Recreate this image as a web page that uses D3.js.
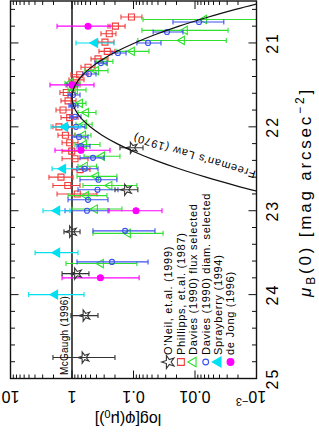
<!DOCTYPE html>
<html>
<head>
<meta charset="utf-8">
<script src="https://cdn.jsdelivr.net/npm/d3@7"></script>
<style>
body { margin: 0; background: #fff; }
svg { display: block; font-family: "Liberation Sans", Arial, sans-serif; }
text { fill: black; }
</style>
</head>
<body>
<div id="container"></div>
<script type="text/javascript">
// rows are [mu, phi, phiHigh, phiLow]
var oneil = [
    [22.25, 0.105, 0.166, 0.070],
    [22.75, 0.130, 0.200, 0.085],
    [23.25, 1.02, 1.35, 0.74],
    [23.75, 0.845, 1.45, 0.53],
    [24.25, 0.615, 1.04, 0.378],
    [24.75, 0.638, 2.04, 0.200]
];
var phillipps = [
    [20.69, 0.108, 0.160, 0.073],
    [20.80, 0.197, 0.260, 0.137],
    [20.89, 0.248, 0.338, 0.193],
    [20.99, 0.291, 0.378, 0.208],
    [21.10, 0.267, 0.364, 0.200],
    [21.19, 0.378, 0.491, 0.260],
    [21.29, 0.549, 0.714, 0.423],
    [21.38, 0.750, 1.04, 0.549],
    [21.44, 0.861, 1.12, 0.638],
    [21.50, 0.963, 1.25, 0.741],
    [21.59, 1.24, 1.57, 0.894],
    [21.69, 1.16, 1.51, 0.861],
    [21.80, 1.40, 1.82, 1.0],
    [21.89, 1.09, 1.51, 0.799],
    [22.00, 1.63, 2.04, 1.0],
    [22.10, 1.28, 1.69, 0.894],
    [22.19, 1.09, 1.45, 0.799],
    [22.29, 1.01, 1.45, 0.741],
    [22.38, 0.894, 1.45, 0.549],
    [22.51, 0.741, 1.0, 0.510],
    [22.60, 1.51, 2.37, 0.963],
    [22.70, 1.17, 2.04, 0.741],
    [22.80, 0.82, 1.75, 0.392]
];
var daviesFlux = [
    [20.72, 0.0071, 0.070, 1e-4],
    [20.85, 0.0146, 0.073, 0.0029],
    [20.97, 0.0163, 0.085, 0.0031],
    [21.10, 0.106, 0.186, 0.056],
    [21.22, 0.291, 0.407, 0.216],
    [21.33, 0.407, 0.615, 0.260],
    [21.48, 1.08, 1.30, 0.741],
    [21.56, 0.894, 1.16, 0.592],
    [21.72, 0.741, 0.963, 0.592],
    [21.83, 0.592, 0.799, 0.407],
    [21.97, 0.638, 0.861, 0.470],
    [22.10, 0.660, 0.894, 0.491],
    [22.21, 0.638, 0.894, 0.351],
    [22.35, 0.325, 0.638, 0.166],
    [22.47, 0.615, 0.799, 0.400],
    [22.59, 0.407, 0.829, 0.186],
    [22.70, 0.246, 0.663, 0.088],
    [22.82, 0.592, 1.16, 0.270],
    [22.98, 0.423, 1.0, 0.154],
    [23.27, 0.123, 0.456, 0.033],
    [23.63, 0.338, 1.25, 0.088]
];
var daviesDiam = [
    [20.75, 0.0086, 0.0228, 0.0034],
    [20.87, 0.0285, 0.048, 0.0157],
    [21.00, 0.058, 0.088, 0.0357],
    [21.12, 0.179, 0.224, 0.132],
    [21.24, 0.338, 0.423, 0.270],
    [21.37, 0.529, 0.663, 0.407],
    [21.50, 1.0, 1.2, 0.80],
    [21.62, 0.963, 1.16, 0.741],
    [21.75, 0.96, 1.12, 0.80],
    [21.88, 0.894, 1.08, 0.714],
    [22.00, 0.861, 1.16, 0.615],
    [22.12, 0.770, 1.0, 0.549],
    [22.23, 0.714, 0.829, 0.510],
    [22.37, 0.456, 0.741, 0.302],
    [22.50, 0.626, 0.829, 0.378],
    [22.63, 0.371, 0.741, 0.186],
    [22.75, 0.385, 0.799, 0.179],
    [22.87, 0.549, 1.16, 0.260],
    [23.00, 0.570, 1.30, 0.250],
    [23.24, 0.137, 0.456, 0.0447],
    [23.61, 0.224, 0.829, 0.058]
];
var sprayberry = [
    [21.00, 0.423, 0.861, 0.208],
    [22.00, 1.30, 2.19, 0.741],
    [22.50, 1.40, 2.11, 0.799],
    [23.00, 1.75, 2.96, 1.08],
    [23.50, 1.75, 3.98, 0.799],
    [24.00, 1.89, 5.06, 0.638]
];
var deJong = [
    [20.80, 0.549, 1.75, 0.241],
    [21.50, 1.0, 2.28, 0.439],
    [22.28, 0.714, 1.89, 0.241],
    [23.00, 0.091, 0.260, 0.0344],
    [23.80, 0.345, 1.45, 0.081]
];
var freeman = [
    [20.53, 0.00094], [20.6, 0.00219], [20.7, 0.00664], [20.8, 0.0181], [20.9, 0.0440],
    [21.0, 0.0957], [21.1, 0.186], [21.2, 0.325], [21.3, 0.506], [21.4, 0.707],
    [21.5, 0.882], [21.6, 0.986], [21.65, 1.0], [21.7, 0.986], [21.8, 0.882],
    [21.9, 0.707], [22.0, 0.506], [22.1, 0.325], [22.2, 0.186], [22.3, 0.0957],
    [22.4, 0.0440], [22.5, 0.0181], [22.6, 0.00664], [22.7, 0.00219], [22.77, 0.00094]
];
var mcgaughPhi = 1;

var phiTicks = [10, 1, 0.1, 0.01, 0.001];
var phiLabels = ["10", "1", "0.1", "0.01", "10"];
var muTicks = [21, 22, 23, 24, 25];

var legendNames = ["O'Neil, et.al. (1999)", "Phillipps, et.al. (1987)", "Davies (1990) flux selected",
    "Davies (1990) diam. selected", "Sprayberry (1994)", "de Jong (1996)"];

var pLeft = 10.5, pRight = 256.5, pTop = 1, pBottom = 378.5;

var x = d3.scaleLog().domain([10, 1e-3]).range([pLeft, pRight]);
var y = d3.scaleLinear().domain([20.5, 25]).range([pTop, pBottom]);

var svg = d3.select("#container").append("svg")
    .attr("width", 319)
    .attr("height", 432);

svg.append("defs").append("clipPath").attr("id", "plotclip")
    .append("rect")
    .attr("x", pLeft).attr("y", pTop)
    .attr("width", pRight - pLeft).attr("height", pBottom - pTop);

var plot = svg.append("g").attr("clip-path", "url(#plotclip)");

var styles = {
    oneil:  { color: "#333", sym: d3.symbolStar, size: 40, fill: "none" },
    phil:   { color: "#f03c3c", sym: d3.symbolSquare, size: 36, fill: "none" },
    flux:   { color: "#2fe02f", sym: d3.symbolTriangle, size: 30, fill: "none" },
    diam:   { color: "#3c50f0", sym: d3.symbolCircle, size: 20, fill: "none" },
    spray:  { color: "#00e0f0", sym: d3.symbolTriangle, size: 34, fill: "#00e0f0" },
    dejong: { color: "#ff00ff", sym: d3.symbolCircle, size: 28, fill: "#ff00ff" }
};

function drawSeries(rows, st) {
    var g = plot.append("g");
    g.selectAll("line.bar").data(rows).enter().append("line")
        .attr("x1", function(d) { return x(d[2]); })
        .attr("x2", function(d) { return x(d[3]); })
        .attr("y1", function(d) { return y(d[0]); })
        .attr("y2", function(d) { return y(d[0]); })
        .attr("stroke", st.color).attr("stroke-width", 1.1);
    [2, 3].forEach(function(k) {
        g.selectAll("line.cap" + k).data(rows).enter().append("line")
            .attr("x1", function(d) { return x(d[k]); })
            .attr("x2", function(d) { return x(d[k]); })
            .attr("y1", function(d) { return y(d[0]) - 2.5; })
            .attr("y2", function(d) { return y(d[0]) + 2.5; })
            .attr("stroke", st.color).attr("stroke-width", 1.1);
    });
    g.selectAll("path").data(rows).enter().append("path")
        .attr("d", d3.symbol().type(st.sym).size(st.size))
        .attr("transform", function(d) {
            return "translate(" + x(d[1]) + "," + y(d[0]) + ") rotate(-90)";
        })
        .attr("fill", st.fill)
        .attr("stroke", st.color)
        .attr("stroke-width", 1.1);
}

// McGaugh line and Freeman curve
plot.append("line")
    .attr("x1", x(mcgaughPhi)).attr("x2", x(mcgaughPhi))
    .attr("y1", pTop).attr("y2", pBottom)
    .attr("stroke", "#222").attr("stroke-width", 1.6);

drawSeries(phillipps, styles.phil);
drawSeries(daviesFlux, styles.flux);
drawSeries(daviesDiam, styles.diam);
drawSeries(sprayberry, styles.spray);
drawSeries(deJong, styles.dejong);
drawSeries(oneil, styles.oneil);

plot.append("path")
    .datum(freeman)
    .attr("d", d3.line()
        .x(function(d) { return x(d[1]); })
        .y(function(d) { return y(d[0]); })
        .curve(d3.curveCatmullRom))
    .attr("fill", "none")
    .attr("stroke", "#111")
    .attr("stroke-width", 1.2);

// frame
svg.append("rect")
    .attr("x", pLeft).attr("y", pTop)
    .attr("width", pRight - pLeft).attr("height", pBottom - pTop)
    .attr("fill", "none").attr("stroke", "#111").attr("stroke-width", 1.4);

// log ticks on top and bottom
var logTicks = [];
for (var k = -3; k <= 0; k++) {
    for (var m = 1; m <= 9; m++) logTicks.push({ v: m * Math.pow(10, k), major: m == 1 });
}
logTicks.push({ v: 10, major: true });
var tk = svg.append("g").attr("stroke", "#111").attr("stroke-width", 1);
logTicks.forEach(function(t) {
    var len = t.major ? 8 : 4;
    tk.append("line").attr("x1", x(t.v)).attr("x2", x(t.v)).attr("y1", pTop).attr("y2", pTop + len);
    tk.append("line").attr("x1", x(t.v)).attr("x2", x(t.v)).attr("y1", pBottom).attr("y2", pBottom - len);
});
// mu ticks on left and right
d3.range(20.6, 25.0, 0.2).forEach(function(v) {
    var major = Math.abs(v - Math.round(v)) < 0.01;
    var len = major ? 8 : 4.5;
    tk.append("line").attr("x1", pLeft).attr("x2", pLeft + len).attr("y1", y(v)).attr("y2", y(v));
    tk.append("line").attr("x1", pRight).attr("x2", pRight - len).attr("y1", y(v)).attr("y2", y(v));
});

// right tick labels (rotated)
muTicks.forEach(function(v) {
    svg.append("text")
        .attr("transform", "translate(278," + y(v) + ") rotate(-90)")
        .attr("text-anchor", "middle")
        .attr("font-size", 16)
        .attr("letter-spacing", 2)
        .text(v);
});

// bottom tick labels (upside down)
phiTicks.forEach(function(v, i) {
    var t = svg.append("text")
        .attr("transform", "translate(" + Math.min(Math.max(x(v), 9), 251) + ",391) rotate(180)")
        .attr("text-anchor", "middle")
        .attr("font-size", 16)
        .text(phiLabels[i]);
    if (v == 0.001) {
        t.append("tspan").attr("font-size", 11).attr("dy", -7).text("\u22123");
    }
});

// axis titles
var yt = svg.append("text")
    .attr("transform", "translate(311,192) rotate(-90)")
    .attr("text-anchor", "middle")
    .attr("font-size", 17)
    .attr("letter-spacing", 2.8);
yt.append("tspan").attr("font-style", "italic").text("\u03bc");
yt.append("tspan").attr("font-size", 12).attr("dy", 4).text("B");
yt.append("tspan").attr("dy", -4).text("(0) [mag arcsec");
yt.append("tspan").attr("font-size", 12).attr("dy", -7).text("\u22122");
yt.append("tspan").attr("dy", 7).text("]");

var xt = svg.append("text")
    .attr("transform", "translate(128,414) rotate(180)")
    .attr("text-anchor", "middle")
    .attr("font-size", 16);
xt.append("tspan").text("log[\u03c6(\u03bc");
xt.append("tspan").attr("font-size", 11).attr("dy", 4).text("0");
xt.append("tspan").attr("dy", -4).text(")]");

// line labels
svg.append("text")
    .attr("transform", "translate(67.5,375) rotate(-90)")
    .attr("font-size", 10)
    .attr("letter-spacing", 0.3)
    .text("McGaugh (1996)");

svg.append("text")
    .attr("transform", "translate(194,156) rotate(197)")
    .attr("text-anchor", "middle")
    .attr("dy", "0.35em")
    .attr("font-size", 11)
    .attr("letter-spacing", 0.9)
    .text("Freeman's Law (1970)");

// legend
var legendStyles = [styles.oneil, styles.phil, styles.flux, styles.diam, styles.spray, styles.dejong];
var lg = svg.append("g").attr("transform", "translate(168.5,362) rotate(-90)");
legendNames.forEach(function(name, i) {
    var st = legendStyles[i];
    lg.append("path")
        .attr("d", d3.symbol().type(st.sym).size(st.size * 1.3))
        .attr("transform", "translate(0," + (i * 12.4) + ")")
        .attr("fill", st.fill)
        .attr("stroke", st.color)
        .attr("stroke-width", 1.1);
    lg.append("text")
        .attr("x", 7)
        .attr("y", i * 12.4)
        .attr("dy", "0.35em")
        .attr("font-size", 11)
        .attr("letter-spacing", 0.7)
        .text(name);
});
</script>
</body>
</html>
